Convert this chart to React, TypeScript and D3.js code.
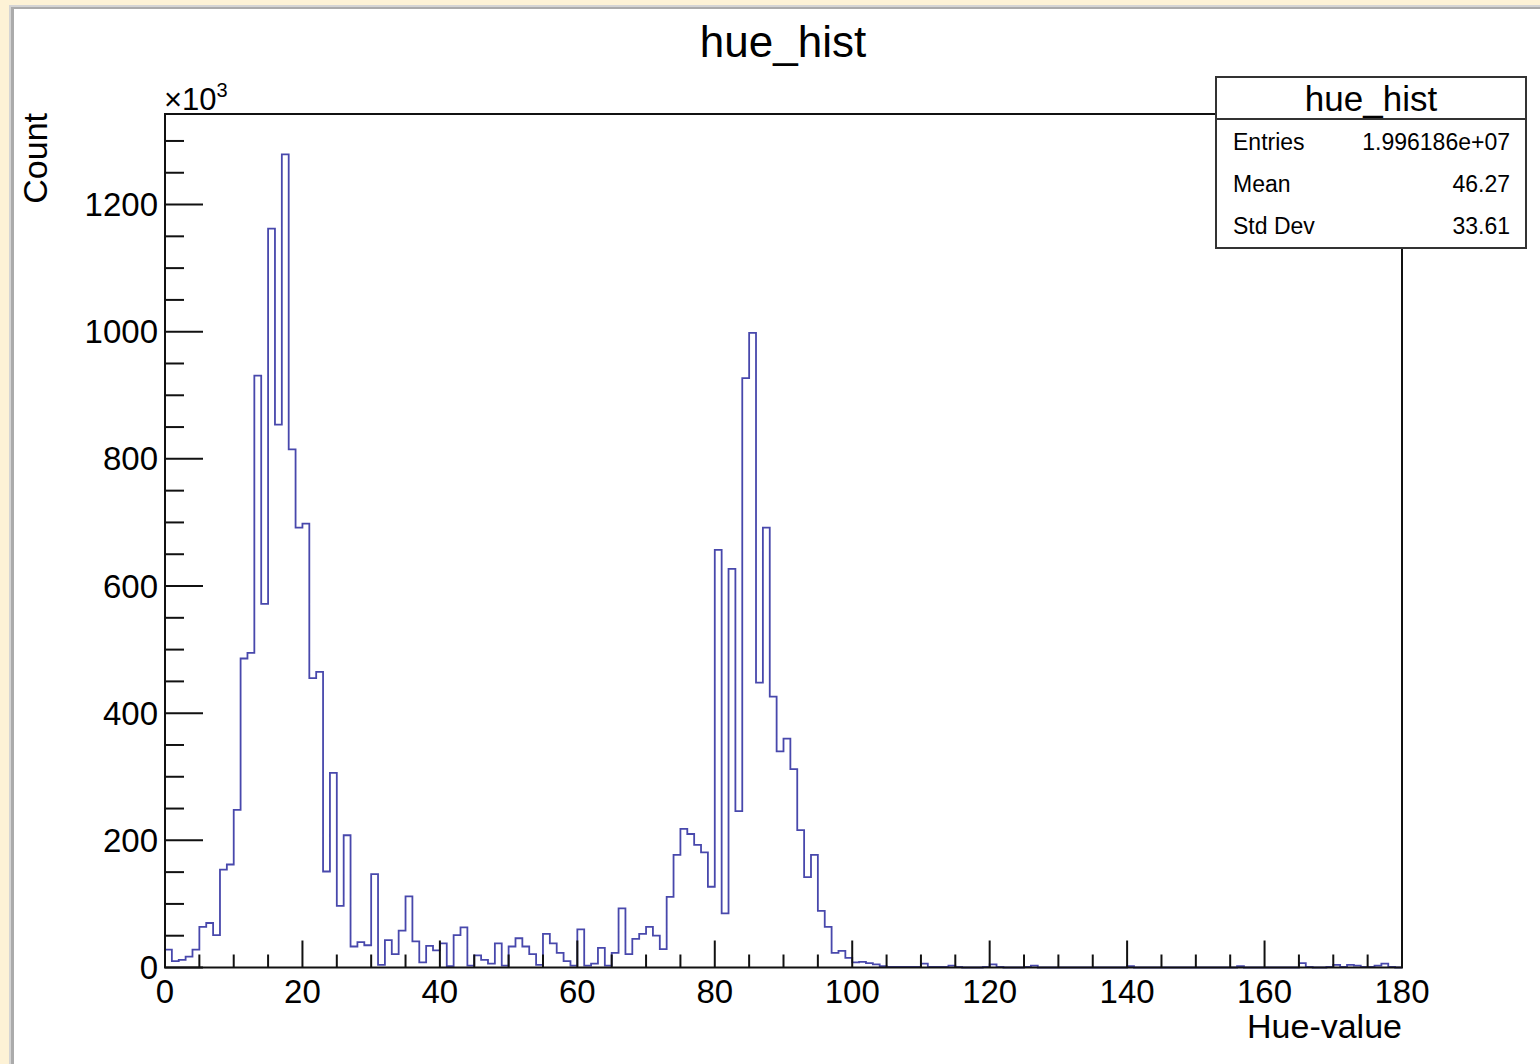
import React from "react";
import * as d3 from "d3";

// Bin counts in thousands, bins of width 1 from 0 to 180
const bins0to49: number[] = [
  28, 10, 12, 17, 28, 64, 70, 51, 154, 162,
  248, 486, 495, 931, 572, 1162, 854, 1279, 815, 692,
  698, 455, 465, 151, 306, 97, 208, 33, 40, 35,
  147, 4, 43, 21, 58, 112, 41, 8, 34, 27,
  38, 2, 51, 63, 3, 19, 12, 6, 38, 3,
];
const bins50to99: number[] = [
  33, 46, 33, 21, 4, 53, 38, 23, 10, 3,
  60, 3, 6, 31, 3, 23, 93, 21, 45, 53,
  64, 50, 29, 111, 177, 218, 210, 193, 181, 127,
  657, 85, 627, 246, 927, 998, 448, 692, 426, 340,
  360, 312, 216, 142, 177, 89, 64, 23, 26, 15,
];
const bins100to179: number[] = [
  8, 9, 7, 5, 2, 1, 1, 1, 1, 1,
  6, 1, 1, 1, 3, 1, 0, 0, 0, 1,
  5, 1, 0, 0, 0, 1, 3, 0, 0, 0,
  0, 0, 0, 0, 0, 0, 0, 0, 0, 0,
  2, 0, 0, 0, 0, 0, 0, 0, 0, 0,
  0, 0, 0, 0, 0, 0, 2, 0, 0, 0,
  0, 0, 0, 0, 0, 7, 1, 0, 0, 1,
  4, 1, 4, 3, 1, 1, 3, 6, 1, 0,
];
const counts: number[] = [...bins0to49, ...bins50to99, ...bins100to179];

const xMajorTicks: number[] = [0, 20, 40, 60, 80, 100, 120, 140, 160, 180];
const yMajorTicks: number[] = [0, 200, 400, 600, 800, 1000, 1200];

const histTitle = "hue_hist";
const xTitle = "Hue-value";
const yTitle = "Count";
const statLabels: string[] = ["Entries", "Mean", "Std Dev"];
const statValues: string[] = ["1.996186e+07", "46.27", "33.61"];

const W = 1540;
const H = 1064;
const FONT = "'Liberation Sans', Arial, Helvetica, sans-serif";

export default function App() {
  const x = d3.scaleLinear().domain([0, 180]).range([165, 1402]);
  const y = d3.scaleLinear().domain([0, 1342.4]).range([967.5, 114]);

  // step outline
  let d = `M${x(0)},${y(counts[0])}`;
  counts.forEach((c, i) => {
    if (i > 0) d += `V${y(c)}`;
    d += `H${x(i + 1)}`;
  });

  const xMinor = d3.range(0, 181, 5).filter((v) => v % 20 !== 0);
  const yMinor = d3.range(0, 1342, 50).filter((v) => v % 200 !== 0);

  const x0 = x(0);
  const yb = y(0);

  return (
    <svg
      width={W}
      height={H}
      style={{ position: "absolute", left: 0, top: 0, display: "block" }}
      fontFamily={FONT}
    >
      <rect x={0} y={0} width={W} height={H} fill="#fdf2d6" />
      <rect x={9} y={5} width={W - 9} height={H - 5} fill="#d4d4d4" />
      <rect x={11} y={7} width={W - 11} height={H - 7} fill="#ababab" />
      <rect x={14} y={9} width={W - 14} height={H - 9} fill="#ffffff" />

      {/* title */}
      <text x={783} y={57} fontSize={44} textAnchor="middle" fill="#000">
        {histTitle}
      </text>

      {/* histogram */}
      <path d={d} fill="none" stroke="#4848ac" strokeWidth={1.8} />

      {/* frame */}
      <rect
        x={x0}
        y={114}
        width={x(180) - x0}
        height={yb - 114}
        fill="none"
        stroke="#111"
        strokeWidth={2}
      />

      {/* x ticks */}
      {xMajorTicks.map((v) => (
        <line key={"xM" + v} x1={x(v)} x2={x(v)} y1={yb} y2={yb - 27} stroke="#111" strokeWidth={2} />
      ))}
      {xMinor.map((v) => (
        <line key={"xm" + v} x1={x(v)} x2={x(v)} y1={yb} y2={yb - 13} stroke="#111" strokeWidth={2} />
      ))}
      {xMajorTicks.map((v) => (
        <text key={"xl" + v} x={x(v)} y={1003} fontSize={33} textAnchor="middle" fill="#000">
          {v}
        </text>
      ))}

      {/* y ticks */}
      {yMajorTicks.map((v) => (
        <line key={"yM" + v} x1={x0} x2={x0 + 38} y1={y(v)} y2={y(v)} stroke="#111" strokeWidth={2} />
      ))}
      {yMinor.map((v) => (
        <line key={"ym" + v} x1={x0} x2={x0 + 19} y1={y(v)} y2={y(v)} stroke="#111" strokeWidth={2} />
      ))}
      {yMajorTicks.map((v) => (
        <text key={"yl" + v} x={158} y={y(v) + 11.5} fontSize={33} textAnchor="end" fill="#000">
          {v}
        </text>
      ))}

      {/* exponent */}
      <text x={164} y={110} fontSize={31} fill="#000">
        ×10
        <tspan fontSize={20} dy={-13}>3</tspan>
      </text>

      {/* axis titles */}
      <text x={1402} y={1038} fontSize={34} textAnchor="end" fill="#000">
        {xTitle}
      </text>
      <text
        transform="translate(47,113) rotate(-90)"
        fontSize={34}
        textAnchor="end"
        fill="#000"
      >
        {yTitle}
      </text>

      {/* stats box */}
      <rect x={1216} y={77} width={310} height={171} fill="#fff" stroke="#333" strokeWidth={2} />
      <line x1={1216} x2={1526} y1={119} y2={119} stroke="#333" strokeWidth={2} />
      <text x={1371} y={111} fontSize={35} textAnchor="middle" fill="#000">
        {histTitle}
      </text>
      {statLabels.map((l, i) => (
        <g key={l}>
          <text x={1233} y={150 + i * 42} fontSize={23} fill="#000">
            {l}
          </text>
          <text x={1510} y={150 + i * 42} fontSize={23} textAnchor="end" fill="#000">
            {statValues[i]}
          </text>
        </g>
      ))}
    </svg>
  );
}
